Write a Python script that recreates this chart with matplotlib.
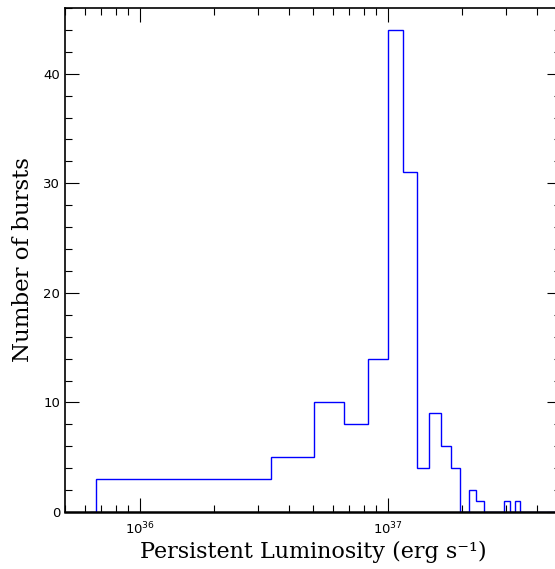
import numpy as np
import matplotlib.pyplot as plt
from matplotlib.ticker import LogLocator, MultipleLocator, FixedLocator, NullFormatter

# bin edges (erg/s) and burst counts
edges = [6.3e35, 6.66e35, 3.4e36, 5.03e36, 6.66e36, 8.3e36, 1.0e37, 1.153e37,
         1.31e37, 1.47e37, 1.64e37, 1.80e37, 1.96e37, 2.13e37, 2.28e37,
         2.44e37, 2.94e37, 3.1e37, 3.26e37, 3.43e37, 5.0e37]
counts = [0, 3, 5, 10, 8, 14, 44, 31, 4, 9, 6, 4, 0, 2, 1, 0, 1, 0, 1, 0]

fig = plt.figure(figsize=(5.55, 5.69), dpi=100)
ax = fig.add_axes([65 / 555, 57 / 569, 496 / 555, 504 / 569])

ax.stairs(counts, edges, color="#0000ff", linewidth=1.0)

ax.set_xscale("log")
ax.set_xlim(5e35, 5e37)
ax.set_ylim(0, 46)

ax.xaxis.set_major_locator(FixedLocator([1e36, 1e37]))
ax.xaxis.set_minor_locator(LogLocator(base=10, subs=np.arange(2, 10)))
ax.xaxis.set_minor_formatter(NullFormatter())
ax.set_xticklabels([r"$10^{36}$", r"$10^{37}$"])
ax.yaxis.set_major_locator(MultipleLocator(10))
ax.yaxis.set_minor_locator(MultipleLocator(2))

ax.tick_params(which="both", direction="in", top=True, right=True, width=0.8,
               labelsize=9.5, colors="black")
ax.tick_params(which="major", length=10)
ax.tick_params(which="minor", length=5)
for lab in ax.get_xticklabels() + ax.get_yticklabels():
    lab.set_family("DejaVu Sans")
ax.tick_params(axis="x", pad=6)

for s in ax.spines.values():
    s.set_linewidth(1.2)
ax.spines["bottom"].set_linewidth(1.8)

ax.set_xlabel("Persistent Luminosity (erg s\u207b\u00b9)", family="DejaVu Serif",
              fontsize=16, labelpad=3)
ax.set_ylabel("Number of bursts", family="DejaVu Serif", fontsize=16.5, labelpad=7)

fig.savefig("out.png", dpi=100)
